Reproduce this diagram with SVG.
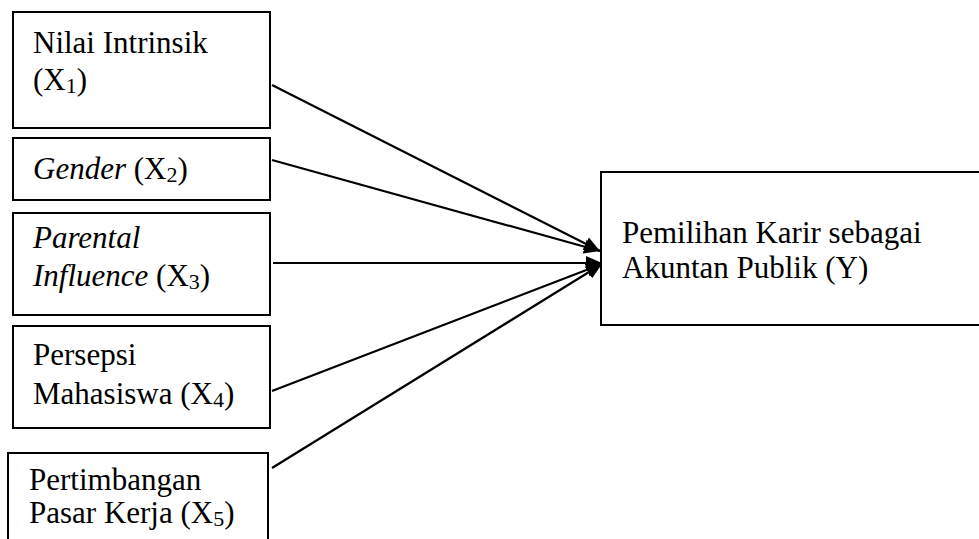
<svg xmlns="http://www.w3.org/2000/svg" width="979" height="539" viewBox="0 0 979 539">
<style>
.box{fill:#fff;stroke:#000;stroke-width:2}
.t{font-family:"Liberation Serif","Times New Roman",serif;font-size:31px;fill:#000}
.i{font-style:italic}
.sub{font-size:22px}
.c{stroke:#000;stroke-width:2.2;fill:none;marker-end:url(#ah)}
</style>
<defs>
<marker id="ah" markerUnits="userSpaceOnUse" markerWidth="18" markerHeight="14" refX="16" refY="7" orient="auto">
<path d="M0,0 L16,7 L0,14 z" fill="#000"/>
</marker>
</defs>
<rect width="979" height="539" fill="#fff"/>
<g id="connectors">
<line class="c" x1="272" y1="85" x2="600" y2="251"/>
<line class="c" x1="272" y1="160" x2="600" y2="251"/>
<line class="c" x1="273" y1="263" x2="602" y2="263"/>
<line class="c" x1="272" y1="391" x2="602" y2="264"/>
<line class="c" x1="272" y1="468" x2="602" y2="264"/>
</g>
<g id="x1">
<rect class="box" x="13" y="12" width="257" height="116"/>
<text class="t" x="33" y="53">Nilai Intrinsik</text>
<text class="t" x="33" y="90">(X<tspan class="sub" dy="3">1</tspan><tspan dy="-3">)</tspan></text>
</g>
<g id="x2">
<rect class="box" x="13" y="138" width="257" height="62"/>
<text class="t" x="33" y="179"><tspan class="i">Gender</tspan> (X<tspan class="sub" dy="3">2</tspan><tspan dy="-3">)</tspan></text>
</g>
<g id="x3">
<rect class="box" x="13" y="213" width="257" height="102"/>
<text class="t i" x="33" y="248">Parental</text>
<text class="t" x="33" y="286"><tspan class="i">Influence</tspan> (X<tspan class="sub" dy="3">3</tspan><tspan dy="-3">)</tspan></text>
</g>
<g id="x4">
<rect class="box" x="13" y="326" width="257" height="102"/>
<text class="t" x="33" y="365">Persepsi</text>
<text class="t" x="33" y="404">Mahasiswa (X<tspan class="sub" dy="3">4</tspan><tspan dy="-3">)</tspan></text>
</g>
<g id="x5">
<rect class="box" x="8" y="453" width="260" height="100"/>
<text class="t" x="29" y="490">Pertimbangan</text>
<text class="t" x="29" y="523">Pasar Kerja (X<tspan class="sub" dy="3">5</tspan><tspan dy="-3">)</tspan></text>
</g>
<g id="y">
<rect class="box" x="601" y="172" width="400" height="153"/>
<text class="t" x="622" y="243">Pemilihan Karir sebagai</text>
<text class="t" x="622" y="278">Akuntan Publik (Y)</text>
</g>
</svg>
